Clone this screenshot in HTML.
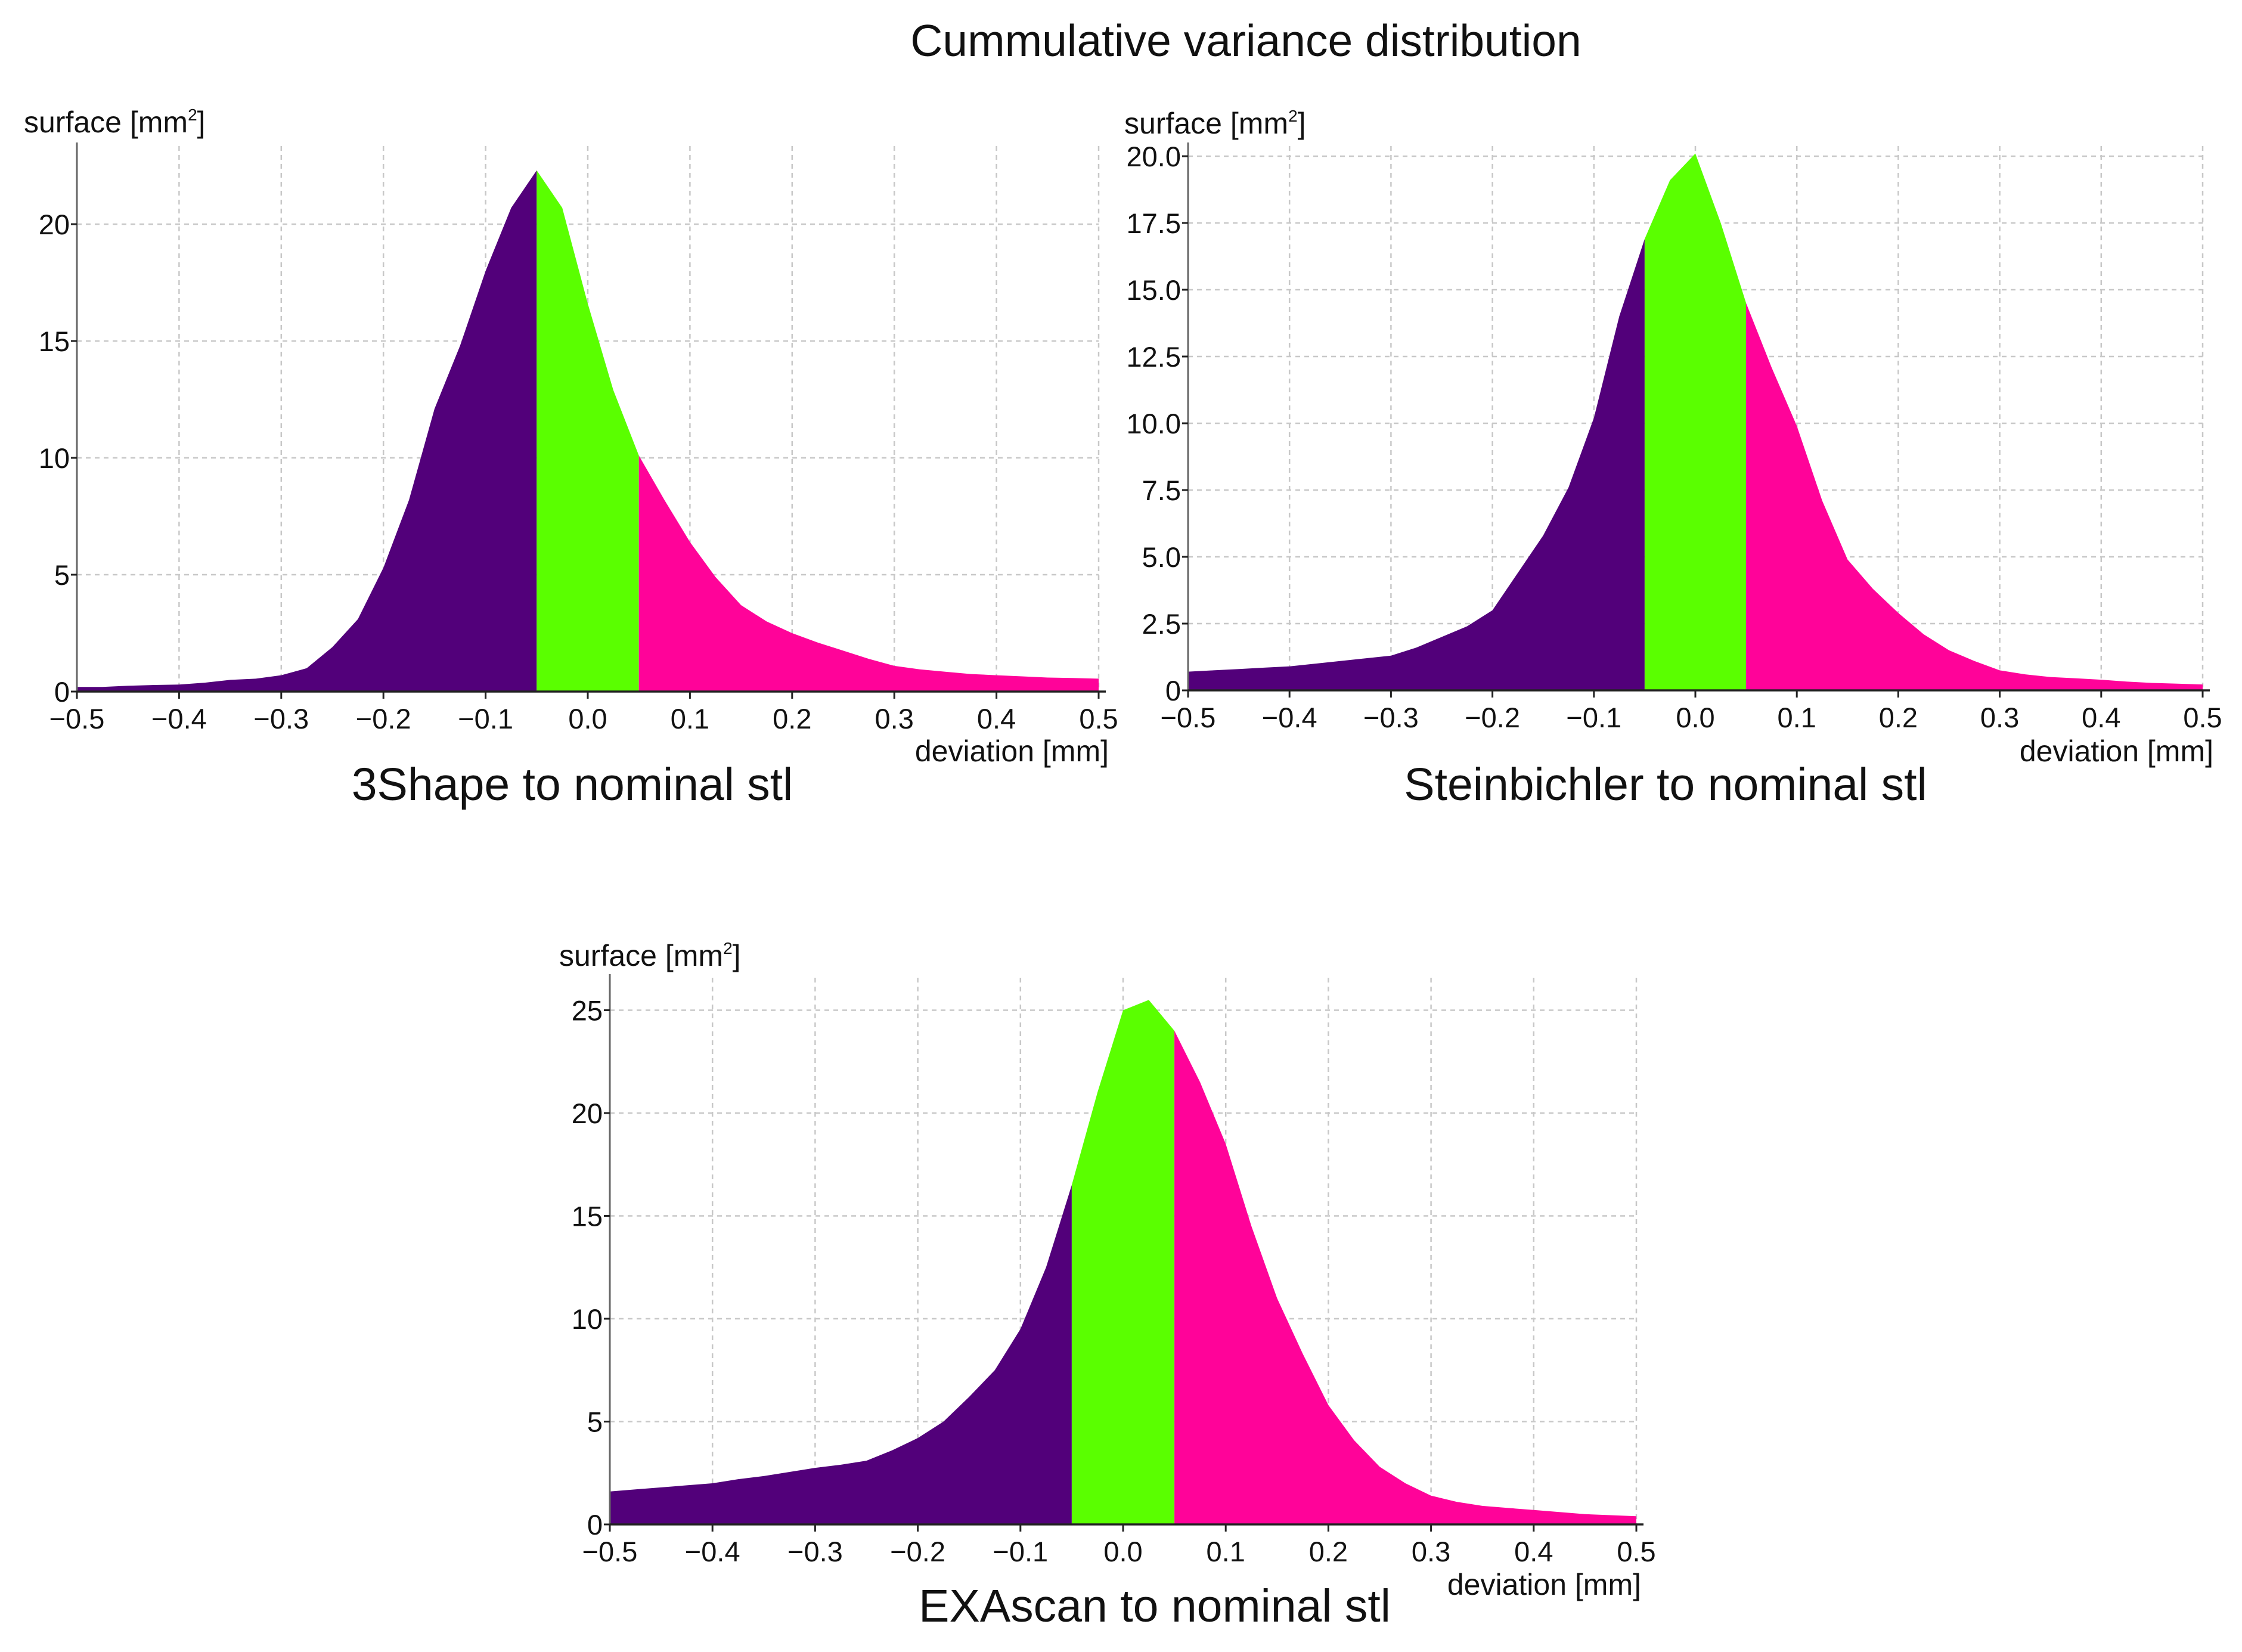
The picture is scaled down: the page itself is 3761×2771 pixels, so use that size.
<!DOCTYPE html>
<html><head><meta charset="utf-8"><style>
html,body{margin:0;padding:0;background:#fff;}
svg{display:block;font-family:"Liberation Sans",Arial,sans-serif;}
</style></head><body>
<svg id="fig" width="3761" height="2771" viewBox="0 0 3761 2771" xmlns="http://www.w3.org/2000/svg">
<rect width="3761" height="2771" fill="#fff"/>
<text x="2090" y="94" font-size="75" text-anchor="middle" fill="#111">Cummulative variance distribution</text>
</svg>
<script>
// x sample positions (mm)
const xs = [];
for (let k = 0; k <= 40; k++) xs.push(-0.5 + 0.025 * k);
const xTicks = [-0.5,-0.4,-0.3,-0.2,-0.1,0.0,0.1,0.2,0.3,0.4,0.5];
const xTickLabels = ["\u22120.5","\u22120.4","\u22120.3","\u22120.2","\u22120.1","0.0","0.1","0.2","0.3","0.4","0.5"];

const shape3Values = [0.2,0.2,0.25,0.28,0.3,0.38,0.5,0.55,0.7,1.0,1.9,3.1,5.3,8.2,12.1,14.8,18.0,20.7,22.3,20.7,16.6,12.9,10.1,8.2,6.4,4.9,3.7,3.0,2.5,2.1,1.75,1.4,1.1,0.95,0.85,0.75,0.7,0.65,0.6,0.58,0.55];
const shape3YTicks = [0,5,10,15,20];
const shape3YLabels = ["0","5","10","15","20"];

const stein = [0.7,0.75,0.8,0.85,0.9,1.0,1.1,1.2,1.3,1.6,2.0,2.4,3.0,4.4,5.8,7.6,10.2,14.0,16.9,19.1,20.1,17.5,14.5,12.1,9.9,7.1,4.9,3.8,2.9,2.1,1.5,1.1,0.75,0.6,0.5,0.45,0.4,0.33,0.28,0.25,0.22];
const steinYTicks = [0,2.5,5,7.5,10,12.5,15,17.5,20];
const steinYLabels = ["0","2.5","5.0","7.5","10.0","12.5","15.0","17.5","20.0"];

const exa = [1.6,1.7,1.8,1.9,2.0,2.2,2.35,2.55,2.75,2.9,3.1,3.6,4.2,5.0,6.2,7.5,9.5,12.5,16.5,21.0,25.0,25.5,24.0,21.5,18.5,14.5,11.0,8.3,5.8,4.1,2.8,2.0,1.4,1.1,0.9,0.8,0.7,0.6,0.5,0.45,0.4];
const exaYTicks = [0,5,10,15,20,25];
const exaYLabels = ["0","5","10","15","20","25"];

const NS = "http://www.w3.org/2000/svg";
const svg = document.getElementById('fig');
function mk(tag, attrs, parent){
  const e = document.createElementNS(NS, tag);
  for (const k in attrs) e.setAttribute(k, attrs[k]);
  (parent||svg).appendChild(e); return e;
}

function chart(cfg, vals, yTicks, yLabels){
  const g = mk('g', {});
  
  
  const X = v => cfg.x0 + (v + 0.5) * (cfg.x1 - cfg.x0);
  const Y = v => cfg.y0 - v * cfg.py;
  for (let i = 1; i < xTicks.length; i++) {
    const l = mk('line', {x1:X(xTicks[i]), x2:X(xTicks[i]), y1:cfg.top, y2:cfg.y0, stroke:'#c8c8c8', 'stroke-width':2.5, 'stroke-dasharray':'8,7'}, g);
    
    
  }
  for (let i = 1; i < yTicks.length; i++) {
    const l = mk('line', {x1:cfg.x0, x2:X(0.5), y1:Y(yTicks[i]), y2:Y(yTicks[i]), stroke:'#c8c8c8', 'stroke-width':2.5, 'stroke-dasharray':'8,7'}, g);
    
    
  }
  const regions = [[-0.5,-0.05,'#52007a','region-below-tolerance'],[-0.05,0.05,'#5aff00','region-within-tolerance'],[0.05,0.5,'#ff0399','region-above-tolerance']];
  regions.forEach(r => {
    let pts = [[X(r[0]), cfg.y0]];
    for (let k = 0; k < xs.length; k++) {
      if (xs[k] >= r[0]-1e-9 && xs[k] <= r[1]+1e-9) pts.push([X(xs[k]), Y(vals[k])]);
    }
    pts.push([X(r[1]), cfg.y0]);
    const p = mk('polygon', {points: pts.map(p=>p[0].toFixed(1)+','+p[1].toFixed(1)).join(' '), fill:r[2]}, g);
    
    
  });
  const ya = mk('line', {x1:cfg.x0, x2:cfg.x0, y1:cfg.top-6, y2:cfg.y0, stroke:'#666', 'stroke-width':3}, g);
  
  
  const xa = mk('line', {x1:cfg.x0, x2:X(0.5)+12, y1:cfg.y0, y2:cfg.y0, stroke:'#222', 'stroke-width':3.5}, g);
  
  
  xTicks.forEach((t,i) => {
    mk('line', {x1:X(t), x2:X(t), y1:cfg.y0, y2:cfg.y0+12, stroke:'#222', 'stroke-width':3}, g);
    const tx = mk('text', {x:X(t), y:cfg.y0+62, 'font-size':47, 'text-anchor':'middle', fill:'#111'}, g);
    tx.textContent = xTickLabels[i];
    
    
  });
  yTicks.forEach((t,i) => {
    mk('line', {x1:cfg.x0-10, x2:cfg.x0, y1:Y(t), y2:Y(t), stroke:'#222', 'stroke-width':3}, g);
    const tx = mk('text', {x:cfg.x0-12, y:Y(t)+17, 'font-size':47, 'text-anchor':'end', fill:'#111'}, g);
    tx.textContent = yLabels[i];
    
    
  });
  const yt = mk('text', {x:cfg.ylx, y:cfg.yly, 'font-size':50, fill:'#111'}, g);
  yt.innerHTML = 'surface [mm<tspan font-size="28" dy="-20">2</tspan><tspan dy="20">]</tspan>';
  
  
  const xt = mk('text', {x:cfg.xlx, y:cfg.xly, 'font-size':50, 'text-anchor':'end', fill:'#111'}, g);
  xt.textContent = 'deviation [mm]';
  
  
  const st = mk('text', {x:cfg.stx, y:cfg.sty, 'font-size':77, 'text-anchor':'middle', fill:'#111'}, g);
  st.textContent = cfg.title;
  
  
}

chart({name:'chart-3shape', x0:129, x1:1843, y0:1160, py:39.2, top:245, ylx:40, yly:222, xlx:1860, xly:1277, stx:960, sty:1342, title:'3Shape to nominal stl'}, shape3Values, shape3YTicks, shape3YLabels);
chart({name:'chart-steinbichler', x0:1993, x1:3695, y0:1158, py:44.8, top:245, ylx:1886, yly:224, xlx:3713, xly:1277, stx:2794, sty:1342, title:'Steinbichler to nominal stl'}, stein, steinYTicks, steinYLabels);
chart({name:'chart-exascan', x0:1023, x1:2745, y0:2557, py:34.5, top:1640, ylx:938, yly:1620, xlx:2753, xly:2675, stx:1937, sty:2720, title:'EXAscan to nominal stl'}, exa, exaYTicks, exaYLabels);
</script>
</body></html>
